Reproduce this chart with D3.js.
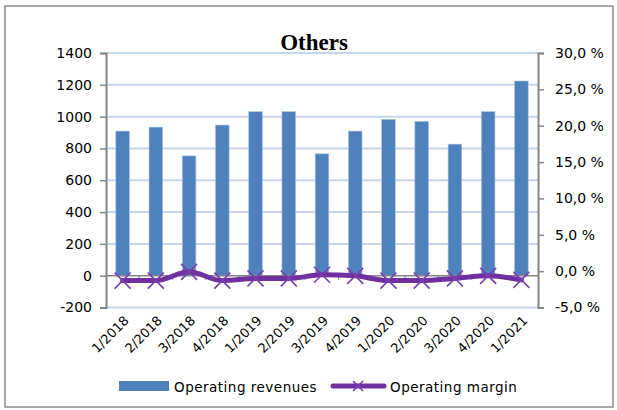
<!DOCTYPE html>
<html>
<head>
<meta charset="utf-8">
<script src="https://cdn.jsdelivr.net/npm/d3@7"></script>
<style>
  body { margin: 0; background: #fff; }
  text { font-family: "DejaVu Sans", Verdana, sans-serif; }
</style>
</head>
<body>
<svg id="chart" width="617" height="410"></svg>
<script>
var quarters = ["1/2018", "2/2018", "3/2018", "4/2018", "1/2019", "2/2019", "3/2019",
  "4/2019", "1/2020", "2/2020", "3/2020", "4/2020", "1/2021"];
var revenues = [909, 934, 753, 947, 1031, 1031, 766, 909, 983, 970, 827, 1031, 1224];
var margins = [-1.3, -1.3, -0.1, -1.3, -1.0, -1.0, -0.5, -0.65, -1.3, -1.3, -1.0, -0.65, -1.2];
var leftTicks = [-200, 0, 200, 400, 600, 800, 1000, 1200, 1400];
var rightTicks = [-5, 0, 5, 10, 15, 20, 25, 30];

var plotLeft = 106, plotRight = 538, plotTop = 53, plotBottom = 307.5;

var svg = d3.select("#chart");

// outer frame
svg.append("rect")
  .attr("x", 5).attr("y", 6)
  .attr("width", 608).attr("height", 401)
  .attr("fill", "none")
  .attr("stroke", "#8c8c8c")
  .attr("stroke-width", 1.5);

var xBand = d3.scaleBand().domain(quarters).range([plotLeft, plotRight]);
var y = d3.scaleLinear().domain([-200, 1400]).range([plotBottom, plotTop]);
var y2 = d3.scaleLinear().domain([-5, 30]).range([plotBottom, plotTop]);
var cx = (i) => xBand(quarters[i]) + xBand.bandwidth() / 2;

// gridlines
svg.append("g")
  .selectAll("line")
  .data(leftTicks.filter((d) => d !== 0))
  .enter()
  .append("line")
  .attr("x1", plotLeft).attr("x2", plotRight)
  .attr("y1", (d) => y(d)).attr("y2", (d) => y(d))
  .attr("stroke", "#c6d6ea")
  .attr("stroke-width", 2);

// bars
svg.append("g")
  .selectAll("rect")
  .data(revenues)
  .enter()
  .append("rect")
  .attr("x", (d, i) => cx(i) - 6.8)
  .attr("width", 13.6)
  .attr("y", (d) => y(d))
  .attr("height", (d) => y(0) - y(d))
  .attr("fill", "#4f81bd")
  .attr("stroke", "#a9c1e0")
  .attr("stroke-width", 0.6);

// zero axis line with small ticks at band edges
svg.append("line")
  .attr("x1", plotLeft).attr("x2", plotRight)
  .attr("y1", y(0)).attr("y2", y(0))
  .attr("stroke", "#868686")
  .attr("stroke-width", 1.5);
svg.append("g")
  .selectAll("line")
  .data(quarters.slice(1))
  .enter()
  .append("line")
  .attr("x1", (d) => xBand(d)).attr("x2", (d) => xBand(d))
  .attr("y1", y(0)).attr("y2", y(0) + 4)
  .attr("stroke", "#868686")
  .attr("stroke-width", 1.2);

// left axis
var leftAxis = svg.append("g")
  .attr("transform", `translate(${plotLeft},0)`)
  .call(d3.axisLeft(y).tickValues(leftTicks).tickSize(6).tickPadding(8).tickFormat((d) => String(d)));
leftAxis.select(".domain").attr("stroke", "#868686").attr("stroke-width", 2);
leftAxis.selectAll(".tick line").attr("stroke", "#868686").attr("stroke-width", 1.5);
leftAxis.selectAll("text").attr("font-size", 14).attr("fill", "#000")
  .style("font-family", "'DejaVu Sans', sans-serif");

// right axis
var rightAxis = svg.append("g")
  .attr("transform", `translate(${plotRight},0)`)
  .call(d3.axisRight(y2).tickValues(rightTicks).tickSize(6).tickPadding(11)
    .tickFormat((d) => d.toFixed(1).replace(".", ",") + " %"));
rightAxis.select(".domain").attr("stroke", "#868686").attr("stroke-width", 2);
rightAxis.selectAll(".tick line").attr("stroke", "#868686").attr("stroke-width", 1.5);
rightAxis.selectAll("text").attr("font-size", 14).attr("fill", "#000")
  .style("font-family", "'DejaVu Sans', sans-serif");

// x labels
svg.append("g")
  .selectAll("text")
  .data(quarters)
  .enter()
  .append("text")
  .attr("transform", (d, i) => `translate(${cx(i) + 7},${plotBottom + 14}) rotate(-45)`)
  .attr("text-anchor", "end")
  .attr("font-size", 13)
  .text((d) => d);

// margin line
var line = d3.line()
  .x((d, i) => cx(i))
  .y((d) => y2(d))
  .curve(d3.curveMonotoneX);

svg.append("path")
  .datum(margins)
  .attr("d", line)
  .attr("fill", "none")
  .attr("stroke", "#7030a0")
  .attr("stroke-width", 5)
  .attr("stroke-linecap", "round");

var cross = (px, py, s) => `M${px - s},${py - s}L${px + s},${py + s}M${px - s},${py + s}L${px + s},${py - s}`;

svg.append("g")
  .selectAll("path")
  .data(margins)
  .enter()
  .append("path")
  .attr("d", (d, i) => cross(cx(i), y2(d), 8))
  .attr("stroke", "#7b3fb0")
  .attr("stroke-width", 1.6)
  .attr("fill", "none");

// title
svg.append("text")
  .attr("x", 314).attr("y", 50)
  .attr("text-anchor", "middle")
  .style("font-family", "'Liberation Serif', 'Times New Roman', serif")
  .attr("font-weight", "bold")
  .attr("font-size", 23)
  .text("Others");

// legend
var legend = svg.append("g");
legend.append("rect")
  .attr("x", 119).attr("y", 381)
  .attr("width", 50).attr("height", 10)
  .attr("fill", "#4f81bd");
legend.append("text")
  .attr("x", 174).attr("y", 392)
  .attr("font-size", 13.5)
  .attr("letter-spacing", 0.5)
  .text("Operating revenues");
legend.append("line")
  .attr("x1", 333).attr("x2", 384)
  .attr("y1", 386).attr("y2", 386)
  .attr("stroke", "#7030a0")
  .attr("stroke-width", 5)
  .attr("stroke-linecap", "round");
legend.append("path")
  .attr("d", cross(358, 386, 5))
  .attr("stroke", "#7b3fb0")
  .attr("stroke-width", 1.6);
legend.append("text")
  .attr("x", 390).attr("y", 392)
  .attr("font-size", 13.5)
  .attr("letter-spacing", 0.5)
  .text("Operating margin");
</script>
</body>
</html>
